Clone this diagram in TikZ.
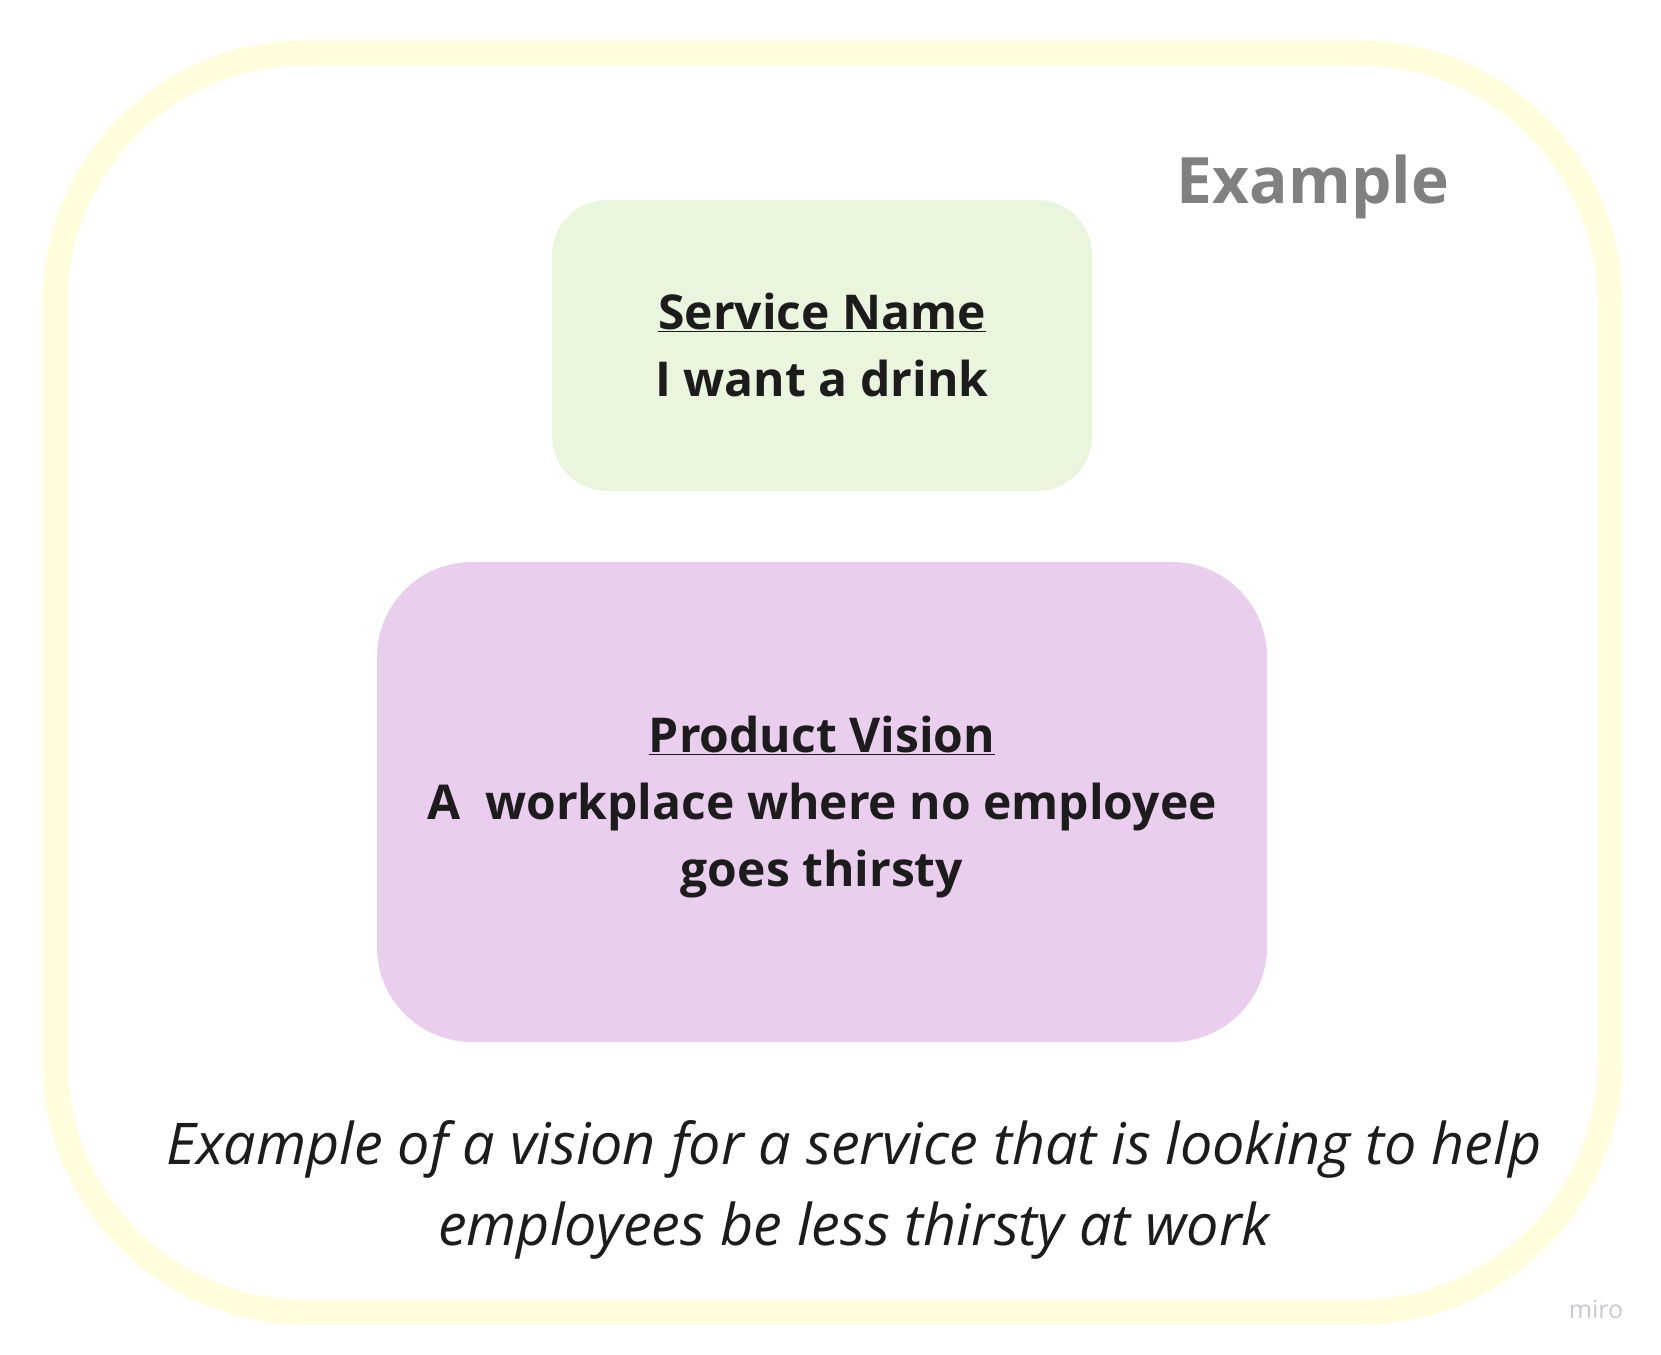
\documentclass[tikz,border=0pt]{standalone}
\usepackage{fontspec}
\setmainfont{Open Sans}
\definecolor{outerY}{HTML}{FFFDDC}
\definecolor{boxG}{HTML}{E9F5DC}
\definecolor{boxP}{HTML}{EACEEE}
\definecolor{inkD}{HTML}{1C1C1C}
\definecolor{grayT}{HTML}{808080}
\definecolor{miroC}{HTML}{C8C8D2}
\tikzset{
  boxtext/.style={align=center, text=inkD, font={\bfseries\fontsize{48}{67}\selectfont}, inner sep=0pt},
}
\begin{document}
\begin{tikzpicture}[x=1pt,y=-1pt]
\useasboundingbox (0,0) rectangle (1661,1354);
\fill[white] (0,0) rectangle (1661,1354);
% outer frame
\draw[outerY, line width=25pt, rounded corners=250pt] (55,53) rectangle (1610,1312);
% boxes
\fill[boxG, rounded corners=55pt] (552,200) rectangle (1092,491);
\fill[boxP, rounded corners=95pt] (377,562) rectangle (1267,1042);
\node[boxtext] (svc) at (822,345) {\underline{Service Name}\\I want a drink};
\node[boxtext] (pv) at (822,807) {\underline{Product Vision}\\A\ \ workplace where no employee\\goes thirsty};
\node[text=grayT, font={\bfseries\fontsize{64}{80}\selectfont}, inner sep=0pt] (ex) at (1313,187) {Example};
\node[align=center, text=inkD, font={\itshape\fontsize{57.5}{81}\selectfont}, inner sep=0pt] (cap) at (854,1190) {Example of a vision for a service that is looking to help\\employees be less thirsty at work};
\node[text=miroC, font={\fontsize{25}{28}\selectfont}, inner sep=0pt] (miro) at (1596,1309) {miro};
\end{tikzpicture}
\end{document}
